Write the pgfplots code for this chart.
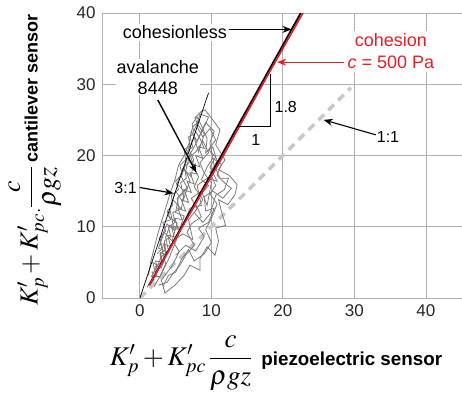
\documentclass[border=0pt]{standalone}
\usepackage{amsmath}
\usepackage{mathptmx}
\usepackage{fontspec}
\setmainfont{Liberation Sans}
\usepackage{pgfplots}
\pgfplotsset{compat=1.18}
\usetikzlibrary{arrows.meta}
\definecolor{cred}{RGB}{232,30,36}
\definecolor{cloud}{RGB}{126,122,122}
\definecolor{gridc}{RGB}{175,175,175}
\begin{document}
\begin{tikzpicture}[>={Stealth[length=9pt,width=7pt]}]
\begin{axis}[name=ax, at={(0,0)}, anchor=south west,
  scale only axis, width=360pt, height=285pt,
  xmin=-5.3, xmax=45.05, ymin=0, ymax=40,
  xtick={0,10,20,30,40}, ytick={0,10,20,30,40},
  grid=major, major grid style={gridc, line width=0.8pt},
  axis line style={gridc, line width=0.9pt},
  tick style={gridc, line width=0.8pt}, major tick length=5pt,
  tick align=inside,
  /pgf/number format/assume math mode=true,
  ticklabel style={font=\fontsize{17}{20}\selectfont, text=black!85},
  xticklabel style={yshift=-3pt},
  yticklabel style={xshift=-3pt},
  clip=false,
]
% 1:1 line
\addplot[color={rgb,255:red,200;green,200;blue,200}, line width=3.5pt, dash pattern=on 8pt off 6pt] coordinates {(0,0) (29.5,29.5)};
% scribble data cloud
\addplot[cloud, line width=0.8pt] coordinates {
(1.0,1.5) (2.2,3.5) (1.8,5.0) (3.0,4.2) (3.8,6.5) (2.6,7.0) (3.4,9.2) (4.5,8.0) (5.2,10.5) (4.0,11.5)
(4.6,13.8) (5.8,12.5) (6.2,15.0) (5.2,16.0) (6.0,18.2) (7.2,17.0) (7.5,19.5) (6.8,21.0) (7.6,22.5) (8.2,20.5)
(9.0,23.0) (8.0,24.5) (7.7,25.3) (8.6,26.2) (9.1,26.4) (10.2,25.0) (11.2,23.6) (10.6,21.5) (11.9,19.4) (11.0,18.0)
(12.5,17.2) (13.6,15.9) (13.3,14.5) (12.3,13.1) (11.0,13.8) (11.5,11.8) (12.0,10.2) (10.6,9.8) (11.0,8.0) (10.5,6.0)
(9.4,7.2) (8.4,5.5) (8.4,3.9) (7.0,4.6) (6.2,3.2) (4.9,1.8) (3.5,0.7) (3.0,2.5) (4.5,4.5) (5.5,6.5)
(4.6,8.0) (6.0,9.0) (7.4,8.2) (6.8,11.0) (8.0,12.5) (7.2,14.0) (8.6,15.0) (9.4,13.0) (10.0,16.2) (9.0,17.5)
(8.4,19.0) (9.6,20.4) (8.8,22.0) (7.8,20.5) (6.6,19.5) (5.8,17.0) (6.6,15.5) (5.4,14.2) (5.0,12.0) (6.2,11.5)
(5.6,9.8) (4.2,10.2) (3.6,8.5) (4.0,6.6) (3.0,5.8) (2.4,4.4) (1.6,3.0) (2.8,3.0) (3.6,4.8) (2.8,8.0)
(3.8,10.4) (4.8,9.5) (4.2,12.5) (5.0,15.0) (6.0,13.5) (7.0,16.5) (6.4,17.8) (7.0,20.2) (7.6,18.2) (8.2,17.0)
(7.6,15.6) (8.8,13.8) (7.6,12.0) (8.8,10.6) (9.8,11.8) (10.6,14.4) (11.8,15.2) (12.4,16.8) (11.2,16.8) (10.4,18.6)
(9.8,21.8) (10.4,23.4) (9.2,24.6) (8.6,23.4) (8.0,22.0) (7.2,23.4) (6.9,21.8) (6.3,20.2) (5.4,18.6) (4.9,16.6)
(4.2,14.6) (3.6,12.6) (3.1,11.0) (2.5,9.0) (2.0,7.0) (1.5,5.0) (1.2,3.2)};
\addplot[cloud, line width=0.8pt] coordinates {
(1.5,2.0) (2.0,2.6) (1.7,3.6) (2.5,3.8) (2.2,5.2) (3.1,5.0) (2.9,6.4) (3.7,6.0) (3.3,7.6) (4.3,7.2)
(3.9,8.8) (4.8,8.6) (4.4,10.0) (5.4,9.6) (4.9,11.2) (5.9,11.0) (5.3,12.6) (6.4,12.2) (5.8,13.8) (6.8,13.4)
(6.2,15.2) (7.2,14.8) (6.6,16.4) (7.6,16.0) (7.0,17.6) (8.0,17.4) (7.3,18.8) (8.4,18.4) (7.8,20.0) (8.8,19.6)
(8.2,21.2) (9.0,21.0) (8.4,22.4) (7.6,23.6) (8.2,24.8) (7.4,24.0) (7.0,22.6) (7.4,21.2) (6.6,20.6) (6.9,19.0)
(6.2,18.4) (6.5,16.8) (5.7,16.2) (6.0,14.6) (5.2,14.0) (5.5,12.4) (4.6,12.0) (4.9,10.6) (4.0,10.0) (4.3,8.6)
(3.4,8.0) (3.6,6.8) (2.8,6.2) (3.0,5.0) (2.2,4.4) (2.4,3.2) (1.6,2.6)};
\addplot[cloud, line width=0.8pt] coordinates {
(5.0,6.0) (6.4,7.4) (7.8,6.6) (9.0,8.6) (8.2,9.8) (9.6,10.6) (10.4,12.6) (9.2,12.2) (9.0,14.2) (10.2,15.0)
(11.6,14.0) (12.8,15.4) (12.0,16.0) (10.8,17.2) (11.4,18.8) (10.2,19.6) (9.4,18.4) (8.6,16.6) (9.6,15.8) (8.4,14.4)
(7.8,13.2) (8.6,11.4) (7.2,10.4) (6.6,9.2) (7.6,7.4) (6.4,6.0) (5.6,4.6) (4.6,3.4) (3.8,2.2) (2.6,1.8)};
\addplot[cloud, line width=0.8pt] coordinates {
(6.8,19.8) (7.8,21.6) (8.8,23.6) (9.6,25.4) (8.4,25.8) (7.9,24.2) (8.8,22.6) (9.8,23.8) (10.6,22.2) (9.6,20.8)
(10.6,19.8) (9.8,18.4) (10.8,16.4) (9.4,16.8) (8.0,15.8) (8.6,13.0) (7.0,12.6) (6.0,10.2) (5.2,8.4) (4.0,5.4)
(3.0,3.4) (2.0,1.6)};
\addplot[cloud, line width=0.8pt] coordinates {
(2.4,6.2) (3.2,7.0) (2.7,8.4) (3.6,9.4) (3.2,10.6) (4.3,11.0) (3.8,12.2) (4.6,13.0) (4.4,14.4) (5.4,15.2)
(5.0,16.4) (5.9,17.4) (5.6,18.6) (6.4,19.4) (6.2,20.8) (7.0,21.4) (6.8,22.6) (7.6,23.0) (7.3,24.4) (8.0,25.4)
(8.6,24.2) (9.4,22.4) (9.2,20.4) (10.2,21.2) (10.8,19.2) (9.8,17.6) (10.6,15.8) (9.8,14.6) (10.8,13.2) (10.0,11.2)
(9.2,9.6) (10.0,7.8) (9.0,6.2) (7.6,5.2) (6.8,6.8) (5.8,5.4) (5.0,3.6) (4.0,3.2) (3.2,1.6)};
% 3:1 line
\addplot[black, line width=0.7pt] coordinates {(0,0) (9.6,28.8)};
% cohesionless line
\addplot[black, line width=1.8pt] coordinates {(1.3,1.8) (22.5,40)};
% cohesion line
\addplot[cred, line width=1.6pt, smooth] coordinates {(1.3,1.8) (8.0,13.6) (12.0,20.6) (17.4,30.4) (22.8,40)};
% slope triangle
\addplot[black, line width=0.9pt] coordinates {(13.6,24.1) (18.2,24.1) (18.2,31.4)};

\node[fill=white, inner sep=2pt, font=\fontsize{18}{22}\selectfont] at (axis cs:4.9,37.3) {cohesionless};
\draw[->, line width=1.2pt] (axis cs:12.4,37.7) -- (axis cs:21.2,37.7);
\node[fill=white, inner sep=1pt, align=center, font=\fontsize{18}{21}\selectfont] at (axis cs:2.5,31.0) {avalanche\\8448};
\draw[->, line width=1.4pt] (axis cs:2.5,27.8) -- (axis cs:7.9,17.6);
\node[fill=white, inner sep=1pt, font=\fontsize{16}{19}\selectfont] at (axis cs:-2.0,15.5) {3:1};
\draw[->, line width=1.2pt] (axis cs:0,15.5) -- (axis cs:4.7,14.7);
\node[fill=white, inner sep=3pt, align=center, text=cred, font=\fontsize{18}{22}\selectfont] at (axis cs:35.1,34.6) {cohesion\\\textit{c} = 500 Pa};
\draw[->, cred, line width=1.2pt] (axis cs:28.6,33.1) -- (axis cs:19.2,33.1);
\node[inner sep=1pt, font=\fontsize{16}{19}\selectfont] at (axis cs:34.7,22.6) {1:1};
\draw[->, line width=1.1pt] (axis cs:33.0,22.9) -- (axis cs:25.7,25.0);
\node[font=\fontsize{16}{19}\selectfont] at (axis cs:16.2,22.2) {1};
\node[font=\fontsize{16}{19}\selectfont] at (axis cs:20.4,26.8) {1.8};
\end{axis}
\node[rotate=90, inner sep=0pt] at ([shift={(-67pt,138pt)}]ax.south west)
  {\fontsize{26}{30}\selectfont$K'_p + K'_{pc\cdot}\dfrac{c}{\rho g z}$\hspace{4pt}{\fontsize{18}{22}\selectfont\bfseries cantilever sensor}};
\node[inner sep=0pt] at ([shift={(174pt,-65pt)}]ax.south west)
  {\fontsize{27}{31}\selectfont$K'_p + K'_{pc}\,\dfrac{c}{\rho g z}$\hspace{9pt}{\fontsize{18.8}{22}\selectfont\bfseries piezoelectric sensor}};
\pgfresetboundingbox
\path ([shift={(-102pt,-103pt)}]ax.south west) rectangle ([shift={(360pt,298pt)}]ax.south west);
\end{tikzpicture}
\end{document}
